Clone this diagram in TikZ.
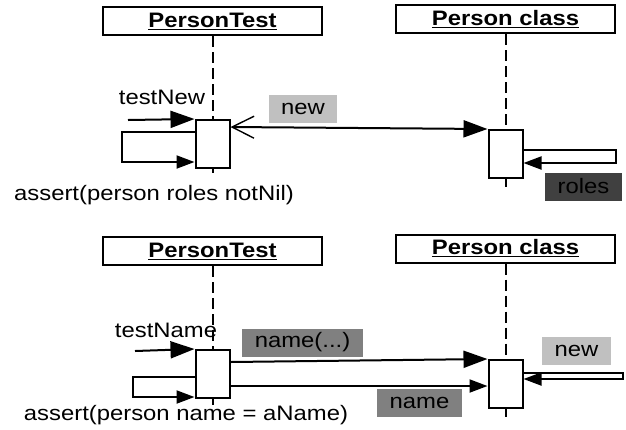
\documentclass[tikz,border=0pt]{standalone}
\usepackage{fontspec}
\setmainfont{Liberation Sans}[FakeStretch=1.14]
\usetikzlibrary{arrows.meta}
\definecolor{tagLight}{HTML}{C0C0C0}
\definecolor{tagMid}{HTML}{808080}
\definecolor{tagDark}{HTML}{404040}
\begin{document}
\begin{tikzpicture}[x=1bp,y=-1bp,line width=2bp,
	every node/.style={font=\fontsize{21}{24}\selectfont},
	obj/.style={draw,fill=white,minimum width=219bp,minimum height=28bp,inner sep=0pt,font=\fontsize{21}{24}\selectfont\bfseries},
	act/.style={draw,fill=white,minimum width=34bp,minimum height=48bp,inner sep=0pt},
	life/.style={dash pattern=on 11bp off 5bp},
	msg/.style={-{Triangle[length=24bp,width=17bp]}},
	ret/.style={-{Triangle[length=18bp,width=13bp]}},
	back/.style={{Straight Barb[length=22bp,width=22bp,line width=1.4bp]}-{Triangle[length=24bp,width=17bp]}},
	tag/.style={inner sep=0pt,minimum height=28bp},
	lbl/.style={anchor=base,inner sep=0pt}]
	\useasboundingbox (0,0) rectangle (626,429);
	\node[obj] (t1) at (212.5,21) {\underline{PersonTest}};
	\node[obj] (c1) at (505.5,19) {\underline{Person class}};
	\node[act] (a1) at (212.5,144) {};
	\node[act] (b1) at (505.5,154) {};
	\coordinate (a1e) at (212.5,173);
	\coordinate (b1e) at (505.5,187);
	\draw[life] (t1.south) -- (a1.north);
	\draw[life] (c1.south) -- (b1.north);
	\draw (a1.south) -- (a1e);
	\draw (b1.south) -- (b1e);
	\node[lbl] (tn) at (162,104) {testNew};
	\coordinate (tn0) at (128,120);
	\draw[msg] (tn0) -- (a1.north west);
	\coordinate (lp1) at (122,132);
	\coordinate (lp1b) at (122,162);
	\draw[ret] (a1.west |- lp1) -- (lp1) -- (lp1b) -- (a1.west |- lp1b);
	\node[lbl] (as1) at (154,200) {assert(person roles notNil)};
	\coordinate (nw0) at (231,127);
	\draw[back] (a1.east |- nw0) -- (b1.north west);
	\node[tag,fill=tagLight,minimum width=68bp] (nw) at (303,109) {new};
	\coordinate (rl) at (616,150);
	\coordinate (rlb) at (616,163);
	\draw[ret] (b1.east |- rl) -- (rl) -- (rlb) -- (b1.east |- rlb);
	\node[tag,fill=tagDark,minimum width=77bp] (rls) at (583.5,186.5) {roles};
	\node[obj] (t2) at (212.5,251) {\underline{PersonTest}};
	\node[obj] (c2) at (505.5,248.5) {\underline{Person class}};
	\node[act] (a2) at (212.5,374) {};
	\node[act] (b2) at (505.5,384) {};
	\coordinate (a2e) at (212.5,405);
	\coordinate (b2e) at (505.5,417);
	\draw[life] (t2.south) -- (a2.north);
	\draw[life] (c2.south) -- (b2.north);
	\draw (a2.south) -- (a2e);
	\draw (b2.south) -- (b2e);
	\node[lbl] (tnm) at (166,337) {testName};
	\coordinate (tnm0) at (135,351);
	\draw[msg] (tnm0) -- (a2.north west);
	\coordinate (lp2) at (133,377);
	\coordinate (lp2b) at (133,397);
	\draw[ret] (a2.west |- lp2) -- (lp2) -- (lp2b) -- (a2.west |- lp2b);
	\node[lbl] (as2) at (186,420) {assert(person name = aName)};
	\coordinate (nm0) at (231,362);
	\draw[msg] (a2.east |- nm0) -- (b2.north west);
	\node[tag,fill=tagMid,minimum width=121bp] (nm) at (302.5,342.5) {name(...)};
	\coordinate (nm1) at (231,386);
	\draw[ret] (a2.east |- nm1) -- (b2.west |- nm1);
	\node[tag,fill=tagMid,minimum width=85bp] (nmr) at (419.5,402.5) {name};
	\coordinate (nw2) at (623,373);
	\coordinate (nw2b) at (623,379);
	\draw[ret] (b2.east |- nw2) -- (nw2) -- (nw2b) -- (b2.east |- nw2b);
	\node[tag,fill=tagLight,minimum width=69bp] (nwb) at (576.5,350.5) {new};
\end{tikzpicture}
\end{document}
